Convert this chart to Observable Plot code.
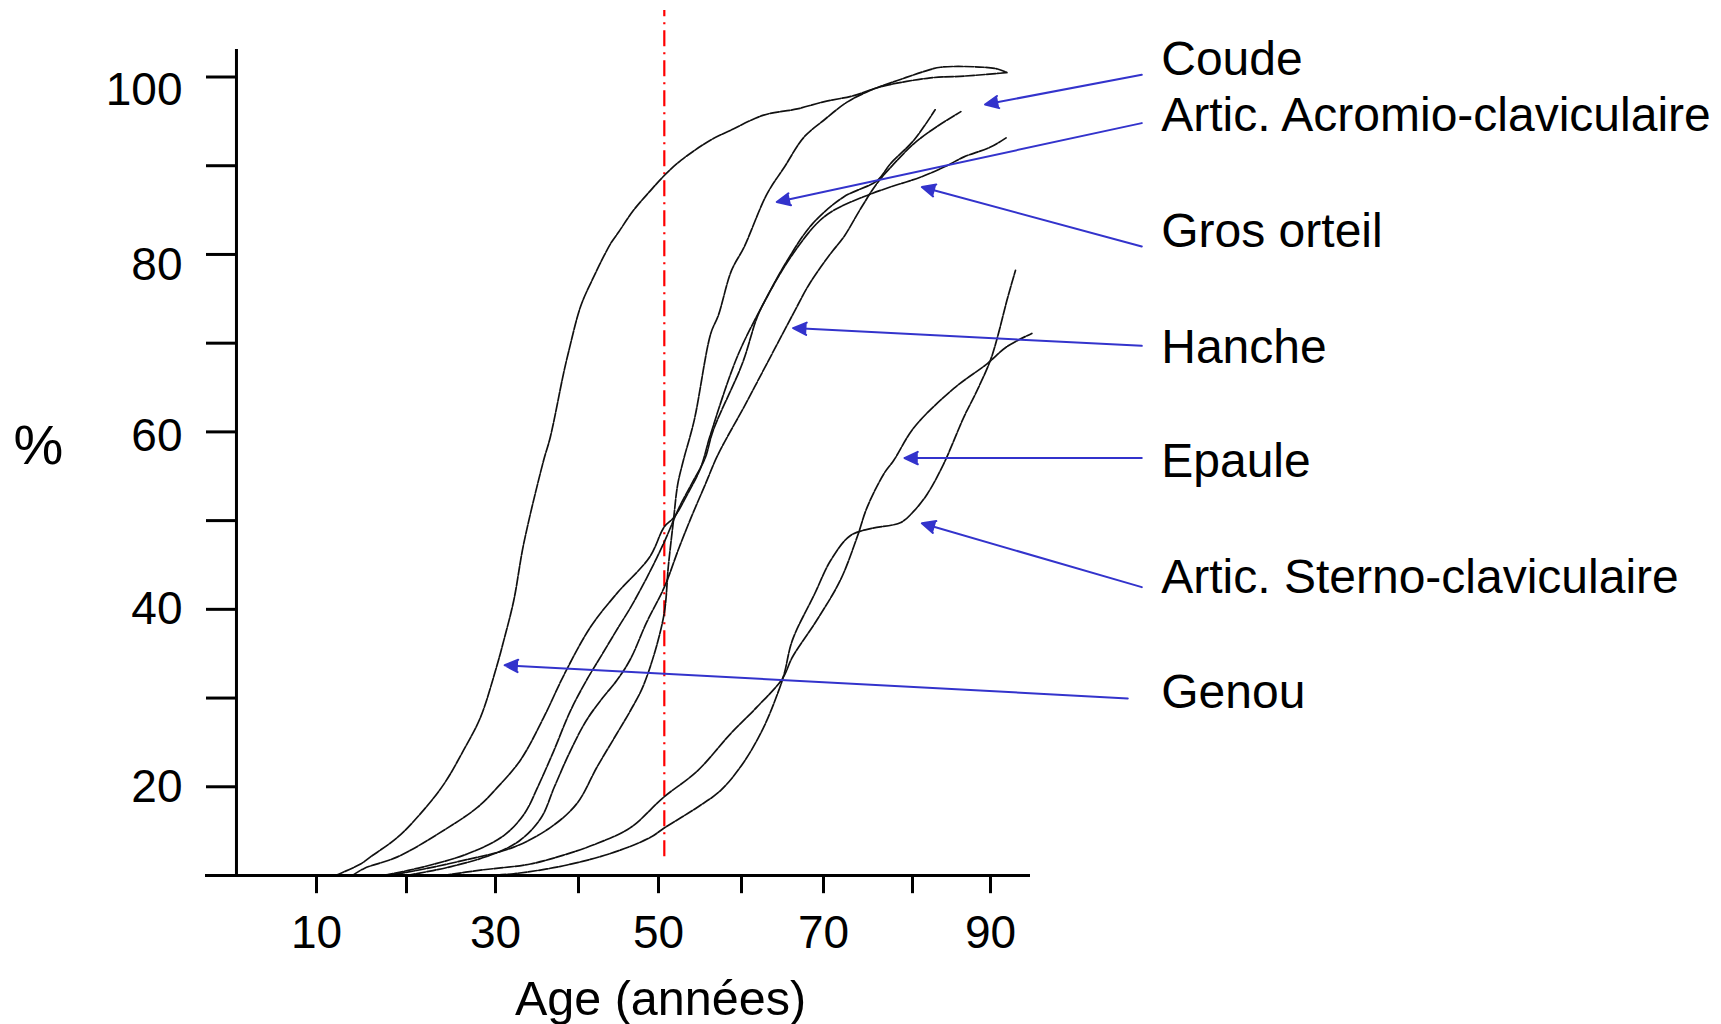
<!DOCTYPE html>
<html>
<head>
<meta charset="utf-8">
<script src="https://cdn.jsdelivr.net/npm/d3@7"></script>
<script src="https://cdn.jsdelivr.net/npm/@observablehq/plot@0.6"></script>
<style>
  html, body { margin: 0; padding: 0; background: #fff; }
  #chart svg { display: block; }
</style>
</head>
<body>
<div id="chart"></div>
<script>
// Prevalence (%) by age, per joint: [age, percent]
const genou = [[12.1,10],[14.9,11.3],[16.0,12.1],[19.0,14.3],[21.6,17.0],[24.2,20.3],[26.4,24.1],[28.3,27.8],[30.0,33.1],[31.0,36.5],[32.2,41.0],[33.4,47.4],[35.8,56.8],[36.6,59.4],[38.2,66.6],[38.8,69.0],[40.25,74.1],[41.7,77.1],[44.0,81.2],[45.0,82.5],[46.9,85.0],[49.0,87.2],[50.7,88.9],[52.7,90.6],[56.3,92.9],[58.7,94.0],[62.7,95.7],[66.8,96.4],[70.0,97.2],[73.4,97.9],[76.4,98.9],[82.3,99.9],[86.6,100.1],[90.9,100.4],[92.1,100.5]];
const acromio = [[16.5,10],[19.0,10.2],[26.4,11.7],[32.2,13.2],[36.6,15.4],[39.8,18.1],[42.3,22.2],[44.8,26.0],[46.5,28.6],[48.2,31.6],[50.6,39.1],[51.2,45.0],[51.8,50.0],[52.3,54.0],[53.0,56.8],[54.3,61.3],[56.3,71.1],[57.2,73.1],[58.8,78.2],[60.3,80.8],[63.1,86.8],[65.2,89.8],[67.6,93.2],[70.0,95.1],[72.7,97.2],[75.3,98.5],[78.3,99.6],[81.4,100.6],[83.6,101.1],[89.1,101.1],[90.9,100.9],[92.1,100.5]];
const coude = [[14.0,10],[15.3,10.8],[19.0,12.1],[24.2,15.1],[28.0,17.7],[30.2,19.9],[33.0,23.0],[35.8,27.8],[38.3,32.7],[41.5,38.0],[44.8,41.8],[48.9,45.9],[50.7,49.3],[51.9,50.4],[53.5,53.0],[55.1,56.0],[56.2,59.5],[59.5,68.5],[62.7,74.5],[65.7,79.5],[68.7,83.5],[72.3,86.5],[76.0,88.3],[77.5,90.2],[80.2,92.9],[82.9,96.3]];
const grosOrteil = [[17.5,10],[22.0,11.0],[27.0,12.5],[31.0,14.5],[33.5,17.0],[35.1,20.0],[37.0,24.0],[39.0,28.5],[41.0,32.0],[43.0,35.0],[45.0,38.0],[46.5,40.2],[48.5,43.5],[50.7,47.6],[52.5,51.5],[54.2,54.5],[55.6,57.0],[56.6,60.2],[60.1,67.7],[61.9,72.9],[63.1,75.2],[66.0,79.7],[69.2,83.5],[71.2,85.0],[74.5,86.5],[77.5,87.6],[81.0,88.7],[84.4,90.0],[86.6,91.0],[90.0,92.1],[92.1,93.2]];
const hanche = [[20.0,10],[25.0,11.0],[30.0,12.5],[33.0,14.0],[35.5,16.5],[37.1,20.0],[39.0,24.0],[41.0,27.5],[43.0,30.0],[44.8,32.0],[46.5,34.4],[48.5,38.5],[50.7,42.5],[52.5,47.0],[54.0,50.5],[55.6,54.0],[57.2,57.5],[60.3,62.8],[63.1,67.7],[66.3,73.3],[68.3,76.7],[70.8,80.1],[72.3,82.0],[74.2,85.2],[76.0,88.0],[77.9,90.2],[80.2,92.5],[83.1,94.4],[86.2,96.1]];
const epaule = [[24.0,10],[28.3,10.6],[34.2,11.3],[38.2,12.3],[42.3,13.6],[46.5,15.4],[50.6,18.8],[54.7,21.8],[58.7,26.0],[61.9,29.0],[65.0,32.2],[66.2,34.6],[69.2,38.8],[71.9,43.3],[73.8,48.2],[74.9,51.5],[76.8,55.3],[77.9,56.8],[80.2,60.5],[85.3,64.9],[89.6,67.7],[92.1,69.6],[95.3,71.1]];
const sterno = [[29.0,10],[32.2,10.2],[38.2,11.1],[44.4,12.6],[49.0,14.3],[50.6,15.3],[54.7,17.7],[57.5,19.6],[60.3,22.8],[62.7,26.7],[64.4,30.5],[65.2,32.7],[66.2,36.5],[68.9,41.7],[70.8,45.5],[73.0,48.3],[75.3,49.1],[78.7,49.8],[80.2,51.1],[81.9,53.0],[84.0,56.4],[86.6,61.7],[88.3,64.7],[90.0,68.1],[90.9,70.7],[92.1,74.8],[93.2,78.2]];

const seriesNames = ["Coude", "Artic. Acromio-claviculaire", "Gros orteil", "Hanche", "Epaule", "Artic. Sterno-claviculaire", "Genou"];
const seriesValues = [coude, acromio, grosOrteil, hanche, epaule, sterno, genou];

// Label anchor (age, %) and arrow ends (age, %) for each joint name
const labelPos = [[111.9,102.0],[111.9,95.6],[111.9,82.6],[111.9,69.5],[111.9,56.6],[111.9,43.6],[111.9,30.6]];
const arrowFrom = [[109.4,100.25],[109.4,94.8],[109.4,80.9],[109.4,69.7],[109.4,57.05],[109.4,42.5],[107.6,29.96]];
const arrowTo = [[89.3,96.9],[64.3,85.9],[81.2,87.6],[66.3,71.7],[79.1,57.05],[81.2,49.7],[31.1,33.7]];

const xTicks = [10, 20, 30, 40, 50, 60, 70, 80, 90];
const xLabels = [10, 30, 50, 70, 90];
const yTicks = [10, 20, 30, 40, 50, 60, 70, 80, 90, 100];
const yLabels = [20, 40, 60, 80, 100];
const refAge = 50.7;

// layout: the age axis as drawn (tick pixel positions, hand-spaced)
const xStops = [-2.33, 10, 20, 30, 40, 50, 60, 70, 80, 90, 95.13];
const xPixels = [205, 316, 406, 495, 578, 658, 741, 823, 912, 990, 1030];
// layout: vertical nudge (px) of the y tick labels, in yLabels order
const yLabelNudge = [0, 0, 4.5, 11, 13.5];

const rows = seriesValues.flatMap((pts, i) => pts.map(([age, pct]) => ({serie: seriesNames[i], age, pct})));
const labels = seriesNames.map((name, i) => ({name, x: labelPos[i][0], y: labelPos[i][1]}));
const arrows = seriesNames.map((name, i) => ({x1: arrowFrom[i][0], y1: arrowFrom[i][1], x2: arrowTo[i][0], y2: arrowTo[i][1]}));
const yLabelRows = yLabels.map((v, i) => ({v, nudge: yLabelNudge[i]}));

const font = "'Liberation Sans', Arial, Helvetica, sans-serif";
const xMin = xStops[0], xMax = xStops[xStops.length - 1], yMin = 10, yMax = 103.1;
const axisAge = 1.11;        // age where the vertical axis stands
const yTickEnd = -2.22;      // left end of the y ticks
const xTickEnd = 7.95;       // bottom end of the x ticks
const blue = "#3333cc";

const chart = Plot.plot({
  width: 1721,
  height: 1024,
  marginTop: 49,
  marginBottom: 149,
  style: {fontFamily: font, background: "#fff", overflow: "visible"},
  x: {type: "linear", domain: xStops, range: xPixels, axis: null},
  y: {domain: [yMin, yMax], axis: null},
  marks: [
    // reference age
    Plot.ruleX([refAge], {y1: 12.1, y2: 107.5, stroke: "#ff0000", strokeWidth: 2.2, strokeDasharray: "16,6,2,6"}),
    // joint curves
    Plot.line(rows, {x: "age", y: "pct", z: "serie", stroke: "#111", strokeWidth: 1.7, strokeDasharray: "9,1.5", curve: "catmull-rom"}),
    // axes
    Plot.ruleY([yMin], {x1: xMin, x2: xMax, stroke: "#000", strokeWidth: 3}),
    Plot.ruleX([axisAge], {y1: yMin, y2: yMax, stroke: "#000", strokeWidth: 3}),
    Plot.ruleY(yTicks, {x1: yTickEnd, x2: axisAge, stroke: "#000", strokeWidth: 3}),
    Plot.ruleX(xTicks, {y1: xTickEnd, y2: yMin, stroke: "#000", strokeWidth: 3}),
    Plot.text(xLabels, {x: d => d, y: yMin, dy: 58, text: d => String(d), fontSize: 46, fill: "#000"}),
    ...yLabelRows.map(r => Plot.text([r], {x: yTickEnd, y: "v", dx: -24, dy: r.nudge, text: d => String(d.v), textAnchor: "end", fontSize: 46, fill: "#000"})),
    Plot.text(["Age (années)"], {x: 50.24, y: yMin, dy: 124, text: d => d, fontSize: 48.5, fill: "#000"}),
    Plot.text(["%"], {x: xMin, y: 58.4, dx: -167, text: d => d, fontSize: 56, fill: "#000"}),
    // annotations
    Plot.arrow(arrows, {x1: "x1", y1: "y1", x2: "x2", y2: "y2", stroke: blue, fill: blue, strokeWidth: 2, headLength: 11, headAngle: 50}),
    Plot.text(labels, {x: "x", y: "y", text: "name", textAnchor: "start", fontSize: 48, fill: "#000"})
  ]
});
document.getElementById("chart").appendChild(chart);
</script>
</body>
</html>
